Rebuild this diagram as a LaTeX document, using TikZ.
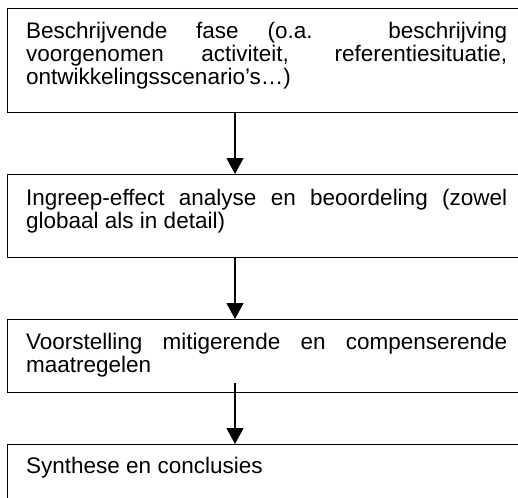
\documentclass[tikz,border=0pt]{standalone}
\usepackage{fontspec}
\setmainfont{Liberation Sans}
\usetikzlibrary{arrows.meta,calc}
\hyphenpenalty=10000
\exhyphenpenalty=10000
\tolerance=10000
\hbadness=10000
\tikzset{
  stepbox/.style={draw=black, line width=1.2pt, rectangle, inner sep=0pt, anchor=north west, minimum width=519pt},
  txt/.style={anchor=base west, inner sep=0pt, text width=481pt, align=justify, font=\fontsize{22.5}{23}\selectfont},
  arr/.style={draw=black, line width=1.2pt, -{Triangle[width=17pt,length=16pt]}}
}
\begin{document}
\begin{tikzpicture}[x=1pt,y=-1pt]
\useasboundingbox (0,0) rectangle (518,497);
\clip (0,0) rectangle (518,497);
\node[stepbox, minimum height=104pt] (b1) at (7,8) {};
\node[stepbox, minimum height=83pt] (b2) at (7,174) {};
\node[stepbox, minimum height=73pt] (b3) at (7,319) {};
\node[stepbox, minimum height=70pt] (b4) at (7,444) {};
\coordinate (ax) at (235,0);
\node[txt] (t1) at (26,39) {Beschrijvende fase (o.a. beschrijving\linebreak voorgenomen activiteit, referentiesituatie,\linebreak ontwikkelingsscenario’s…)};
\node[txt] (t2) at (26,205) {Ingreep-effect analyse en beoordeling (zowel\linebreak globaal als in detail)};
\node[txt] (t3) at (26,349) {Voorstelling mitigerende en compenserende\linebreak maatregelen};
\node[txt] (t4) at (26,473) {Synthese en conclusies};
\draw[arr] (b1.south -| ax) -- (b2.north -| ax);
\draw[arr] (b2.south -| ax) -- (b3.north -| ax);
\draw[arr] ([yshift=10pt]b3.south -| ax) -- (b4.north -| ax);
\end{tikzpicture}
\end{document}
